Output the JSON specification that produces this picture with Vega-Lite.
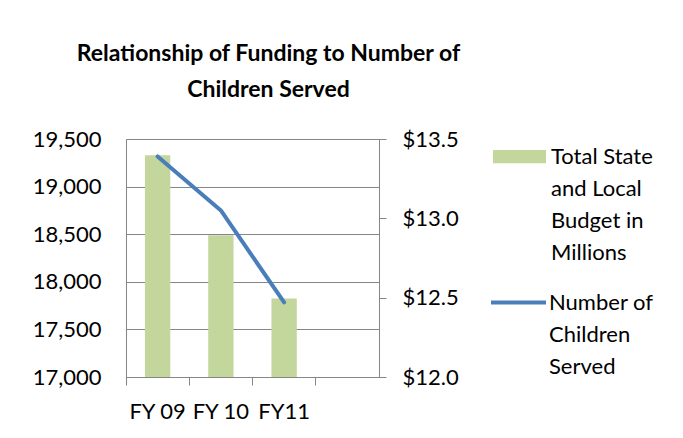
{
  "$schema": "https://vega.github.io/schema/vega-lite/v6.json",
  "width": 253,
  "height": 238,
  "autosize": "none",
  "padding": {"left": 126, "top": 139, "right": 304, "bottom": 61},
  "background": "white",
  "config": {
    "font": "Lato",
    "view": {"stroke": "#868686", "strokeWidth": 1},
    "axis": {"labelFont": "Lato", "labelFontSize": 22, "labelColor": "black", "domainColor": "#868686", "tickColor": "#868686", "gridColor": "#868686", "gridOpacity": 1},
    "style": {"guide-label": {"lineHeight": 32}}
  },
  "title": {
    "text": ["Relationship of Funding to Number of", "Children Served"],
    "font": "Lato", "fontSize": 23, "fontWeight": "bold", "color": "black",
    "lineHeight": 36, "anchor": "middle", "dx": 16, "offset": 26
  },
  "data": {
    "values": [
      {"fy": "FY 09", "budget": 19330, "children": 13.39},
      {"fy": "FY 10", "budget": 18490, "children": 13.05},
      {"fy": "FY11", "budget": 17825, "children": 12.47}
    ]
  },
  "layer": [
    {
      "mark": {"type": "bar"},
      "encoding": {
        "x": {
          "field": "fy", "type": "nominal",
          "scale": {"domain": ["FY 09", "FY 10", "FY11", "blank"], "paddingInner": 0.6, "paddingOuter": 0.3},
          "axis": {"title": null, "labelAngle": 0, "bandPosition": -0.75, "tickSize": 8, "labelPadding": 16, "labelExpr": "datum.value == 'blank' ? '' : datum.value", "domain": true}
        },
        "y": {
          "field": "budget", "type": "quantitative",
          "scale": {"domain": [17000, 19500], "zero": false, "nice": false},
          "axis": {"title": null, "values": [17000, 17500, 18000, 18500, 19000, 19500], "format": ",d", "ticks": false, "tickSize": 0, "labelPadding": 25, "grid": true, "domain": false}
        },
        "y2": {"datum": 17000},
        "fill": {
          "datum": "Total State and Local Budget in Millions",
          "scale": {"range": ["#C3D69B"]},
          "legend": {
            "title": null, "orient": "none", "legendX": 367, "legendY": -9, "padding": 0,
            "symbolType": "M-1,-0.25H1V0.25H-1Z", "symbolSize": 2809, "symbolStrokeWidth": 0,
            "labelFontSize": 22, "labelFont": "Lato", "labelColor": "black", "labelLimit": 0, "labelOffset": 5,
            "labelExpr": "['Total State', 'and Local', 'Budget in', 'Millions']"
          }
        }
      }
    },
    {
      "mark": {"type": "line", "strokeWidth": 4, "strokeCap": "round", "strokeJoin": "round"},
      "encoding": {
        "x": {"field": "fy", "type": "nominal"},
        "y": {
          "field": "children", "type": "quantitative",
          "scale": {"domain": [12, 13.5], "zero": false, "nice": false},
          "axis": {"orient": "right", "title": null, "values": [12, 12.5, 13, 13.5], "format": "$.1f", "tickSize": 7, "labelPadding": 16, "grid": false, "domain": false}
        },
        "stroke": {
          "datum": "Number of Children Served",
          "scale": {"range": ["#4A7EBB"]},
          "legend": {
            "title": null, "orient": "none", "legendX": 363, "legendY": 134, "padding": 0,
            "symbolType": "stroke", "symbolSize": 3025, "symbolStrokeWidth": 4,
            "labelFontSize": 22, "labelFont": "Lato", "labelColor": "black", "labelLimit": 0, "labelOffset": 1,
            "labelExpr": "['Number of', 'Children', 'Served']"
          }
        }
      }
    }
  ],
  "resolve": {"scale": {"y": "independent"}}
}
